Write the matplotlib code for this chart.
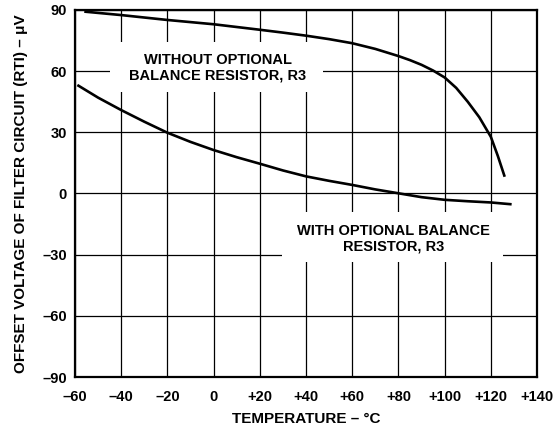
import matplotlib
matplotlib.use("Agg")
import matplotlib.pyplot as plt
from matplotlib.patches import Rectangle

plt.rcParams['font.family'] = ['Liberation Sans', 'DejaVu Sans']
plt.rcParams['font.weight'] = 'bold'

# curve without balance resistor
temp_without = [-56, -40, -20, 0, 20, 30, 40, 50, 60, 70, 80, 85, 90, 95, 100, 105, 110, 115, 120, 123, 126]
vos_without = [89.2, 87.5, 85.1, 83.0, 80.3, 78.9, 77.4, 75.7, 73.7, 70.9, 67.4, 65.4, 63.1, 60.3, 56.9, 51.8, 45.0, 37.4, 27.8, 18.5, 8.2]

# curve with balance resistor
temp_with = [-59, -50, -40, -30, -20, -10, 0, 10, 20, 30, 40, 50, 60, 70, 80, 90, 100, 110, 120, 129]
vos_with = [53.2, 47.0, 40.9, 35.2, 29.8, 25.3, 21.3, 17.8, 14.6, 11.3, 8.4, 6.2, 4.2, 2.0, 0.1, -1.8, -3.1, -3.8, -4.4, -5.3]

x_ticks = [-60, -40, -20, 0, 20, 40, 60, 80, 100, 120, 140]
x_labels = ['\u201360', '\u201340', '\u201320', '0', '+20', '+40', '+60', '+80', '+100', '+120', '+140']
y_ticks = [-90, -60, -30, 0, 30, 60, 90]
y_labels = ['\u201390', '\u201360', '\u201330', '0', '30', '60', '90']

fig = plt.figure(figsize=(5.6, 4.32), dpi=100)
ax = fig.add_axes([0.134, 0.1273, 0.825, 0.8496])

ax.plot(temp_without, vos_without, color='black', lw=1.9, zorder=4, solid_capstyle='butt')
ax.plot(temp_with, vos_with, color='black', lw=1.9, zorder=4, solid_capstyle='butt')

ax.set_xlim(-60, 140)
ax.set_ylim(-90, 90)
ax.set_xticks(x_ticks)
ax.set_xticklabels(x_labels)
ax.set_yticks(y_ticks)
ax.set_yticklabels(y_labels)
ax.tick_params(length=0, labelsize=10.5)
ax.tick_params(axis='x', pad=9)
ax.tick_params(axis='y', pad=6)

ax.set_axisbelow(True)
ax.grid(True, color='black', lw=0.9)
for s in ax.spines.values():
    s.set_linewidth(1.6)

# white masks behind the two labels (hide the grid there)
ax.add_patch(Rectangle((-44.8, 49.9), 92.2, 24.5, fc='white', ec='none', zorder=2))
ax.add_patch(Rectangle((29.6, -33.5), 95.7, 24.6, fc='white', ec='none', zorder=2))

ax.text(1.7, 61.8, 'WITHOUT OPTIONAL\nBALANCE RESISTOR, R3', ha='center', va='center',
        fontsize=10.5, fontweight='bold', zorder=3, linespacing=1.15)
ax.text(77.8, -22.3, 'WITH OPTIONAL BALANCE\nRESISTOR, R3', ha='center', va='center',
        fontsize=10.5, fontweight='bold', zorder=3, linespacing=1.15)

ax.set_xlabel('TEMPERATURE \u2013 \u00b0C', fontsize=11, fontweight='bold', labelpad=6)
ax.set_ylabel('OFFSET VOLTAGE OF FILTER CIRCUIT (RTI) \u2013 \u03bcV', fontsize=11,
              fontweight='bold', labelpad=10)

fig.savefig('out.png', dpi=100)
